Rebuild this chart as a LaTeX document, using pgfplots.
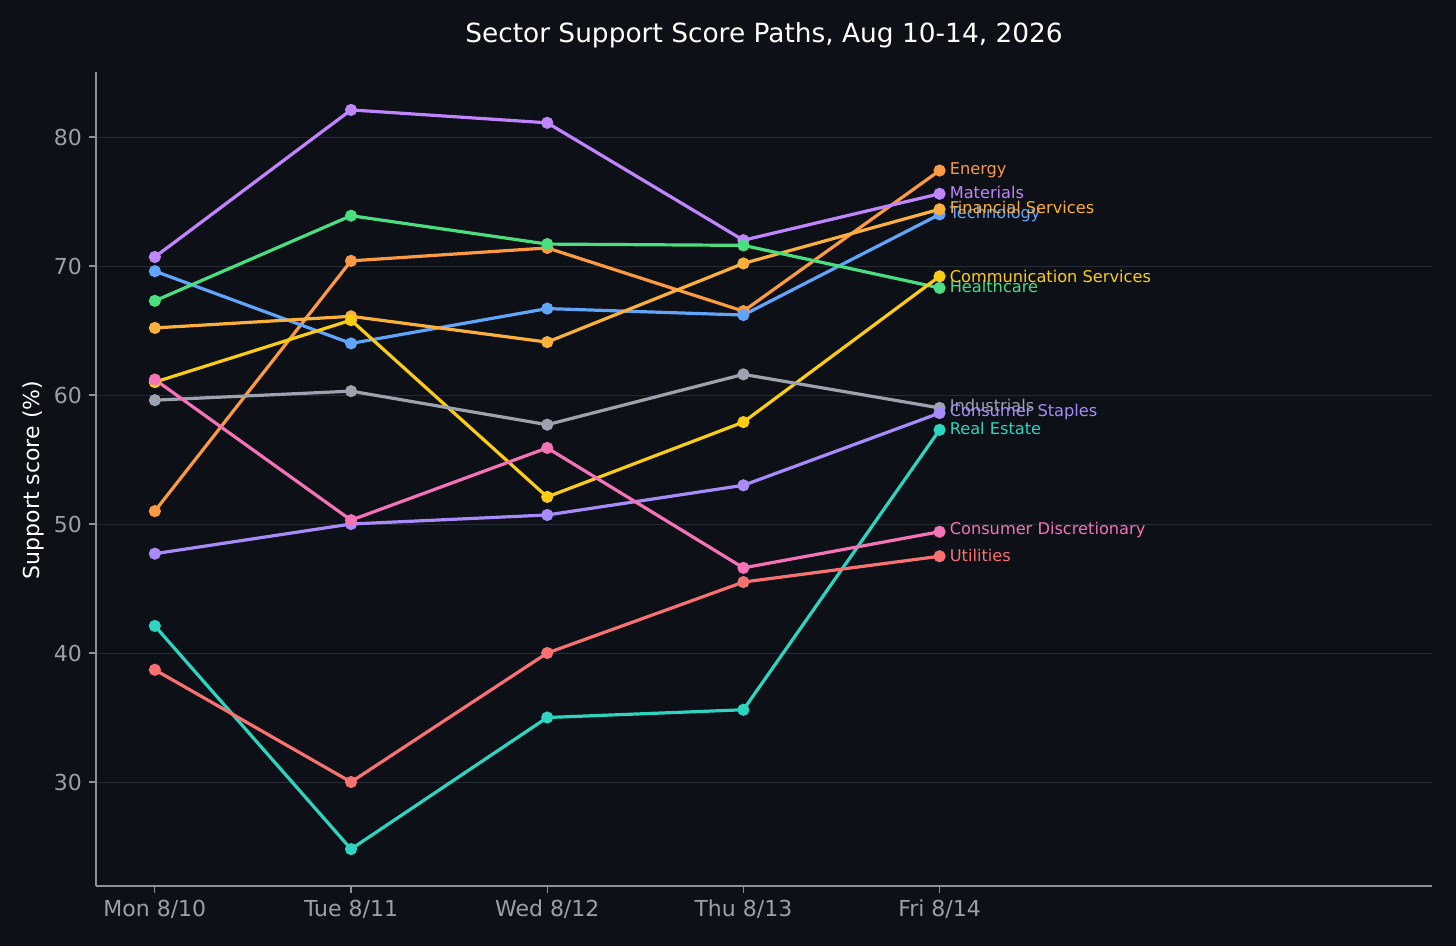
\documentclass[border=0pt]{standalone}
\usepackage{pgfplots}
\pgfplotsset{compat=1.18}
\usepackage{fontspec}
\setmainfont{DejaVu Sans}
\definecolor{bgc}{HTML}{0D1017}
\definecolor{axc}{HTML}{8B9099}
\definecolor{tkc}{HTML}{9AA0AA}
\definecolor{grc}{HTML}{262B33}
\definecolor{cEn}{HTML}{FB9A43}
\definecolor{cMa}{HTML}{C084FC}
\definecolor{cFi}{HTML}{FBB03B}
\definecolor{cTe}{HTML}{60A5FA}
\definecolor{cCo}{HTML}{FACC15}
\definecolor{cHe}{HTML}{4ADE80}
\definecolor{cIn}{HTML}{9CA3AF}
\definecolor{cCs}{HTML}{A78BFA}
\definecolor{cRe}{HTML}{2DD4BF}
\definecolor{cCd}{HTML}{F472B6}
\definecolor{cUt}{HTML}{F87171}
\begin{document}
\begin{tikzpicture}
\fill[bgc] (0,0) rectangle (728pt,473pt);
\useasboundingbox (0,0) rectangle (728pt,473pt);
\node[text=white,font=\fontsize{13.2}{15}\selectfont] at (382pt,455.5pt) {Sector Support Score Paths, Aug 10-14, 2026};
\node[text=white,rotate=90,font=\fontsize{11}{13}\selectfont] at (16.5pt,233pt) {Support score (\%)};
\begin{axis}[at={(48pt,30pt)},anchor=south west,scale only axis,
 width=668pt,height=407pt,
 xmin=-0.30,xmax=6.51,ymin=21.94,ymax=85.04,
 axis lines*=left, axis line style={axc,line width=0.6pt},
 xtick={0,1,2,3,4}, xticklabels={Mon 8/10,Tue 8/11,Wed 8/12,Thu 8/13,Fri 8/14},
 ytick={30,40,50,60,70,80},
 ymajorgrids, grid style={grc,line width=0.5pt},
 tick style={axc,line width=0.6pt}, tick align=outside, major tick length=3.5pt,
 ticklabel style={text=tkc,font=\fontsize{11}{13}\selectfont},
 /pgf/number format/assume math mode=true,
 clip=false,
 every axis plot/.append style={line width=1.6pt,mark=*,mark size=2.2pt},
]
\newcommand{\ser}[4]{\addplot[color=#1,mark options={fill=#1,draw=#1}] coordinates {#2};
 \node[anchor=west,text=#1,font=\fontsize{8.1}{9.5}\selectfont,inner sep=0pt] at (axis cs:4.05,#3) {#4};}
\ser{cEn}{(0,51.0)(1,70.4)(2,71.4)(3,66.5)(4,77.4)}{77.4}{Energy}
\ser{cMa}{(0,70.7)(1,82.1)(2,81.1)(3,72.0)(4,75.6)}{75.7}{Materials}
\ser{cTe}{(0,69.6)(1,64.0)(2,66.7)(3,66.2)(4,74.0)}{74.0}{Technology}
\ser{cFi}{(0,65.2)(1,66.1)(2,64.1)(3,70.2)(4,74.4)}{74.5}{Financial Services}
\ser{cHe}{(0,67.3)(1,73.9)(2,71.7)(3,71.6)(4,68.3)}{68.4}{Healthcare}
\ser{cCo}{(0,61.0)(1,65.8)(2,52.1)(3,57.9)(4,69.2)}{69.2}{Communication Services}
\ser{cIn}{(0,59.6)(1,60.3)(2,57.7)(3,61.6)(4,59.0)}{59.2}{Industrials}
\ser{cCs}{(0,47.7)(1,50.0)(2,50.7)(3,53.0)(4,58.6)}{58.7}{Consumer Staples}
\ser{cRe}{(0,42.1)(1,24.8)(2,35.0)(3,35.6)(4,57.3)}{57.4}{Real Estate}
\ser{cCd}{(0,61.2)(1,50.3)(2,55.9)(3,46.6)(4,49.4)}{49.5}{Consumer Discretionary}
\ser{cUt}{(0,38.7)(1,30.0)(2,40.0)(3,45.5)(4,47.5)}{47.6}{Utilities}
\end{axis}
\end{tikzpicture}
\end{document}
